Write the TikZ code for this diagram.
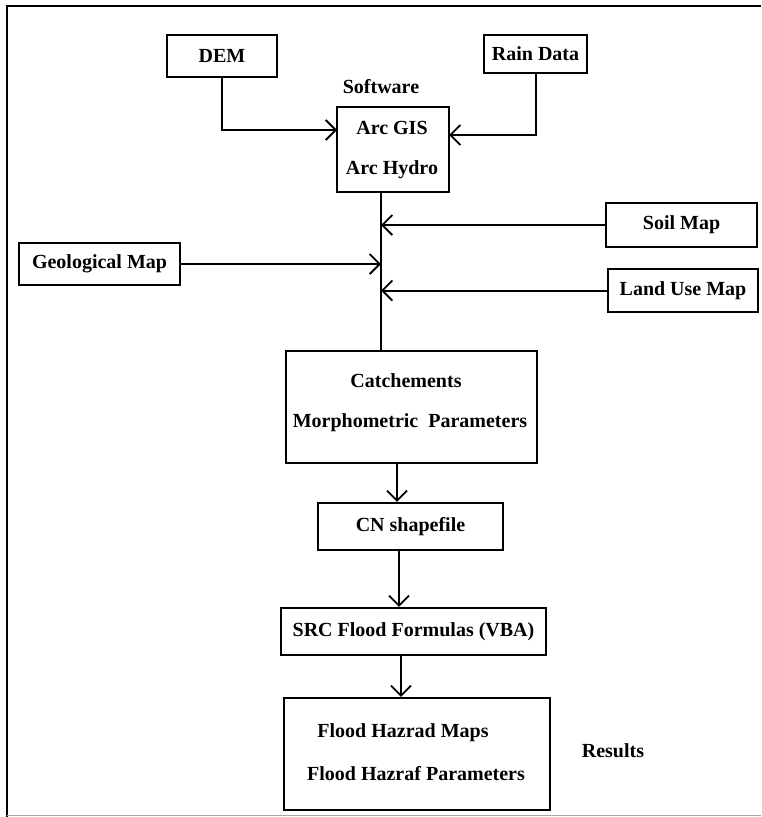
\documentclass[tikz,border=0pt]{standalone}
\usepackage{fontspec}
\setmainfont{Liberation Serif}
\usetikzlibrary{arrows.meta}
\begin{document}
\begin{tikzpicture}[x=1pt,y=-1pt,
  box/.style={draw, line width=2.3pt, inner sep=0pt},
  lbl/.style={font=\bfseries\fontsize{20}{24}\selectfont, inner sep=0pt},
  conn/.style={line width=2pt},
  arr/.style={conn,-{Straight Barb[length=10pt,width=20pt,line width=1.8pt]}}]
\useasboundingbox (0,0) rectangle (761,817);
\fill[white] (0,0) rectangle (761,817);
\draw[line width=1.6pt] (7,817) -- (7,6) -- (761,6);
\draw[black!35, line width=1pt] (7,815) -- (761,815);

% boxes
\node[box, lbl, minimum width=110pt, minimum height=42pt] (dem) at (222,56) {DEM};
\node[box, lbl, minimum width=103pt, minimum height=38pt] (rain) at (535.5,54) {Rain Data};
\node[lbl] (soft) at (381,87) {Software};
\node[box, minimum width=112pt, minimum height=85pt] (arc) at (393,149.5) {};
\node[lbl] (arcgis) at (392,128) {Arc GIS};
\node[lbl] (archydro) at (392,170) {Arc Hydro};
\node[box, lbl, minimum width=151pt, minimum height=44pt] (soil) at (681.5,225) {Soil Map};
\node[box, lbl, minimum width=161pt, minimum height=42pt] (geo) at (99.5,264) {Geological Map};
\node[box, lbl, minimum width=150pt, minimum height=43pt] (land) at (683,290.5) {Land Use Map};
\node[box, minimum width=251pt, minimum height=112pt] (catch) at (411.5,407) {};
\node[lbl] (catchtxt) at (406,381) {Catchements};
\node[lbl] (morph) at (410,423) {Morphometric\ \ Parameters};
\node[box, lbl, minimum width=185pt, minimum height=47pt] (cn) at (410.5,526.5) {CN shapefile};
\node[box, lbl, minimum width=265pt, minimum height=47pt] (src) at (413.5,631.5) {SRC Flood Formulas (VBA)};
\node[box, minimum width=266pt, minimum height=112pt] (flood) at (417,754) {};
\node[lbl] (fmaps) at (403,733) {Flood Hazrad Maps};
\node[lbl] (fpar) at (416,774) {Flood Hazraf Parameters};
\node[lbl] (results) at (613,751) {Results};

% helper coordinates
\coordinate (demin) at (337,130);
\coordinate (rainin) at (449,135);
\coordinate (spx) at (381,0);
\coordinate (c1) at (397,0);
\coordinate (c2) at (399,0);
\coordinate (c3) at (401,0);

% connectors
\draw[arr] (dem.south) |- (demin);
\draw[arr] (rain.south) |- (rainin);
\draw[conn] (arc.south -| spx) -- (catch.north -| spx);
\draw[arr] (soil.west) -- (soil.west -| spx);
\draw[arr] (geo.east) -- (geo.east -| spx);
\draw[arr] (land.west) -- (land.west -| spx);
\draw[arr] (catch.south -| c1) -- (cn.north -| c1);
\draw[arr] (cn.south -| c2) -- (src.north -| c2);
\draw[arr] (src.south -| c3) -- (flood.north -| c3);
\end{tikzpicture}
\end{document}
